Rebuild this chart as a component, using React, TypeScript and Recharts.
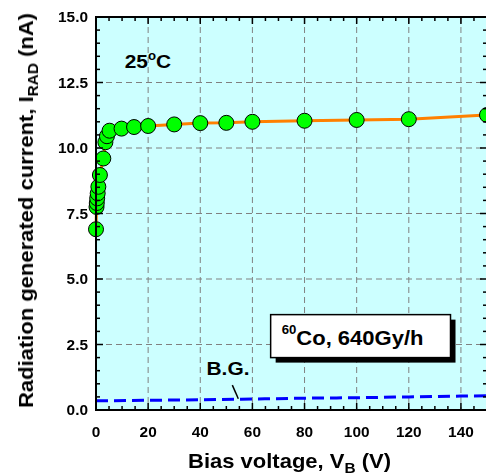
import React from 'react';
import {
  CartesianGrid,
  ComposedChart,
  Line,
  ReferenceArea,
  ReferenceDot,
  ReferenceLine,
  XAxis,
  YAxis,
} from 'recharts';

// bias voltage (V) and radiation generated current (nA)
const biasV = [0, 0.2, 0.3, 0.45, 0.65, 0.9, 1.5, 2.8, 3.6, 4.2, 5.2, 9.8, 14.6, 20, 30, 40, 50, 60, 80, 100, 120, 150];
const iRad = [6.9, 7.75, 7.9, 8.08, 8.27, 8.52, 8.97, 9.6, 10.22, 10.45, 10.66, 10.74, 10.8, 10.84, 10.9, 10.95, 10.96, 11.0, 11.04, 11.07, 11.1, 11.26];

// background current (B.G.)
const bgV = [0, 20, 40, 60, 80, 100, 120, 140, 150];
const bgI = [0.35, 0.37, 0.39, 0.42, 0.45, 0.47, 0.5, 0.53, 0.54];

const xMajor = [0, 20, 40, 60, 80, 100, 120, 140];
const xMinor = Array.from({ length: 31 }, (_, i) => i * 5);
const yMajor = [0, 2.5, 5, 7.5, 10, 12.5, 15];
const yMinor = Array.from({ length: 31 }, (_, i) => i * 0.5);

const radData = biasV.map((v, i) => ({ x: v, y: iRad[i] }));
const bgData = bgV.map((v, i) => ({ x: v, y: bgI[i] }));

const FONT = '"Liberation Sans", Arial, sans-serif';
const SX = 1.1;

// plot area inside the chart (left, top, right, bottom)
const PL = 88;
const PT = 9;
const PR = 479;
const PB = 402;
const CW = 490;
const XMAX = 150;
const YMAX = 15;

const isMajor = (v: number, step: number) => Math.abs(v / step - Math.round(v / step)) < 1e-6;

function BottomTick(props: any) {
  const { x, y, payload } = props;
  if (payload.value > 140) return <g />;
  return (
    <text
      transform={`translate(${x},${y + 27}) scale(${SX},1)`}
      textAnchor='middle'
      fontFamily={FONT}
      fontWeight='bold'
      fontSize={14}
      fill='#000'
    >
      {payload.value}
    </text>
  );
}

function LeftTick(props: any) {
  const { x, y, payload } = props;
  return (
    <text
      transform={`translate(${x - 8},${y + 5}) scale(${SX},1)`}
      textAnchor='end'
      fontFamily={FONT}
      fontWeight='bold'
      fontSize={14}
      fill='#000'
    >
      {payload.value.toFixed(1)}
    </text>
  );
}

// axis frame with inward minor/major ticks, laid over the chart
function FrameOverlay() {
  const px = (v: number) => PL + (v / XMAX) * (PR - PL);
  const py = (v: number) => PB - (v / YMAX) * (PB - PT);
  return (
    <svg
      width={478}
      height={467}
      style={{ position: 'absolute', left: 0, top: 0, pointerEvents: 'none', zIndex: 2 }}
    >
      <g stroke='#000' strokeWidth={1.5}>
        {xMinor.map((v) => {
          const len = isMajor(v, 20) ? 7 : 4;
          return (
            <g key={`x${v}`}>
              <line x1={px(v)} x2={px(v)} y1={PB} y2={PB - len} />
              <line x1={px(v)} x2={px(v)} y1={PT} y2={PT + len} />
            </g>
          );
        })}
        {yMinor.map((v) => {
          const len = isMajor(v, 2.5) ? 7 : 4;
          return (
            <g key={`y${v}`}>
              <line x1={PL} x2={PL + len} y1={py(v)} y2={py(v)} />
              <line x1={PR} x2={PR - len} y1={py(v)} y2={py(v)} />
            </g>
          );
        })}
      </g>
      <rect x={PL} y={PT} width={PR - PL} height={PB - PT} fill='none' stroke='#000' strokeWidth={2} />
    </svg>
  );
}

function XTitle(props: any) {
  const { x, y, width } = props.viewBox;
  return (
    <text
      transform={`translate(${x + width / 2 - 2},${y + 58}) scale(${SX},1)`}
      textAnchor='middle'
      fontFamily={FONT}
      fontWeight='bold'
      fontSize={20}
      fill='#000'
    >
      <tspan>Bias voltage, V</tspan>
      <tspan fontSize={14} dy={5}>B</tspan>
      <tspan dy={-5}> (V)</tspan>
    </text>
  );
}

function YTitle(props: any) {
  const { y, height } = props.viewBox;
  return (
    <text
      transform={`translate(25,${y + height / 2 - 3}) rotate(-90) scale(${SX},1)`}
      textAnchor='middle'
      fontFamily={FONT}
      fontWeight='bold'
      fontSize={20}
      fill='#000'
    >
      <tspan>Radiation generated current, I</tspan>
      <tspan fontSize={14} dy={5}>RAD</tspan>
      <tspan dy={-5}> (nA)</tspan>
    </text>
  );
}

function TempLabel(props: any) {
  const { cx, cy } = props;
  return (
    <text transform={`translate(${cx},${cy}) scale(${SX},1)`} fontFamily={FONT} fontWeight='bold' fontSize={19} fill='#000'>
      <tspan>25</tspan>
      <tspan fontSize={12} dy={-8}>o</tspan>
      <tspan dy={8}>C</tspan>
    </text>
  );
}

function SourceBox(props: any) {
  const { x, y, width, height } = props;
  return (
    <g>
      <rect x={x + 5} y={y + 5} width={width} height={height} fill='#000' />
      <rect x={x} y={y} width={width} height={height} fill='#fff' stroke='#000' strokeWidth={1.5} />
      <text transform={`translate(${x + 11},${y + 30}) scale(${SX},1)`} fontFamily={FONT} fontWeight='bold' fontSize={20} fill='#000'>
        <tspan fontSize={12} dy={-11}>60</tspan>
        <tspan dy={11}>Co, 640Gy/h</tspan>
      </text>
    </g>
  );
}

function BgLabel(props: any) {
  const { cx, cy } = props;
  return (
    <text transform={`translate(${cx},${cy}) scale(${SX},1)`} fontFamily={FONT} fontWeight='bold' fontSize={19} fill='#000'>
      B.G.
    </text>
  );
}

export default function App() {
  return (
    <div style={{ position: 'fixed', left: 8, top: 8, width: 478, height: 467, overflow: 'hidden' }}>
      <div
        style={{
          position: 'absolute',
          left: PL,
          top: PT,
          width: PR - PL,
          height: PB - PT,
          background: '#CCFFFF',
        }}
      />
      <ComposedChart width={CW} height={467} margin={{ top: PT, right: CW - PR, bottom: 0, left: 0 }}>
        <CartesianGrid
          verticalValues={xMajor}
          horizontalValues={yMajor}
          stroke='#808080'
          strokeDasharray='6 4'
          strokeWidth={1}
        />
        <XAxis
          dataKey='x'
          type='number'
          domain={[0, XMAX]}
          ticks={xMajor}
          interval={0}
          height={65}
          tickLine={false}
          tickSize={0}
          tickMargin={0}
          axisLine={false}
          tick={<BottomTick />}
          label={<XTitle />}
        />
        <YAxis
          type='number'
          domain={[0, YMAX]}
          ticks={yMajor}
          interval={0}
          width={PL}
          tickLine={false}
          tickSize={0}
          tickMargin={0}
          axisLine={false}
          tick={<LeftTick />}
          label={<YTitle />}
        />
        <Line
          data={bgData}
          dataKey='y'
          type='monotone'
          stroke='#0000FF'
          strokeWidth={3}
          strokeDasharray='12 6'
          dot={false}
          isAnimationActive={false}
        />
        <Line
          data={radData}
          dataKey='y'
          type='linear'
          stroke='#FF8000'
          strokeWidth={3}
          dot={{ r: 7.5, fill: '#00FF00', stroke: '#000', strokeWidth: 1, fillOpacity: 1 }}
          isAnimationActive={false}
        />
        <ReferenceLine
          segment={[
            { x: 52.3, y: 0.95 },
            { x: 54.6, y: 0.43 },
          ]}
          stroke='#000'
          strokeWidth={1.5}
        />
        <ReferenceDot x={11} y={13.05} r={0} shape={<TempLabel />} />
        <ReferenceDot x={42.4} y={1.34} r={0} shape={<BgLabel />} />
        <ReferenceArea x1={67} x2={136} y1={2.0} y2={3.64} shape={<SourceBox />} />
      </ComposedChart>
      <FrameOverlay />
    </div>
  );
}
